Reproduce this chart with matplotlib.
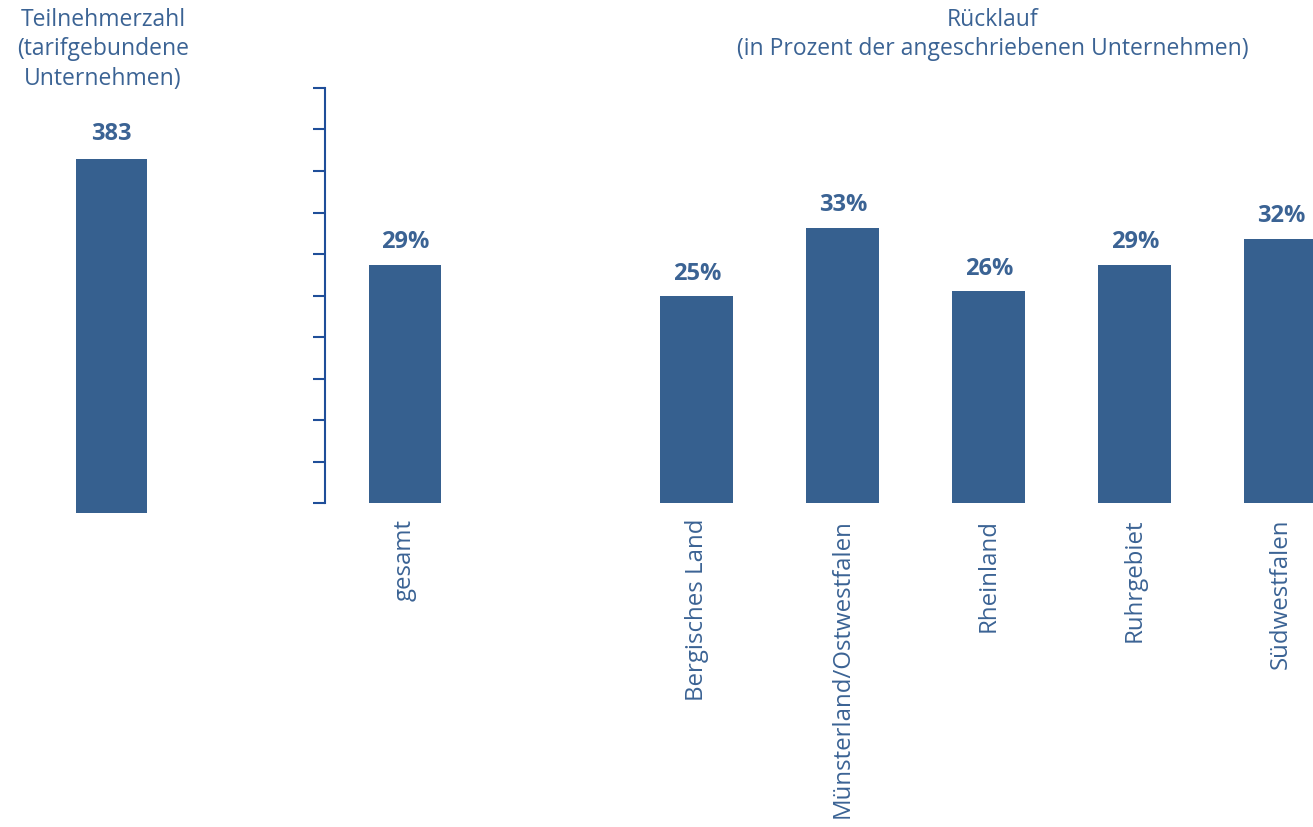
import matplotlib.pyplot as plt
import matplotlib.patheffects as pe

# data
teilnehmer = 383
regionen = ['gesamt', '', 'Bergisches Land', 'Münsterland/Ostwestfalen',
            'Rheinland', 'Ruhrgebiet', 'Südwestfalen']
ruecklauf = [28.7, None, 24.9, 33.1, 25.5, 28.7, 31.8]
labels = ['29%', '', '25%', '33%', '26%', '29%', '32%']

BAR = '#36608f'
TXT = '#3b6394'
AX = '#1f4e99'
W, H = 1313, 827

plt.rcParams['font.family'] = ['Open Sans', 'DejaVu Sans']
fig = plt.figure(figsize=(W / 100, H / 100), dpi=100)

shadow = [pe.SimplePatchShadow(offset=(0, -3), shadow_rgbFace='#8a8a8a', alpha=0.6), pe.Normal()]

# left panel: Teilnehmerzahl
axl = fig.add_axes([0, (H - 513) / H, 223 / W, 425 / H])
axl.bar([0], [teilnehmer], width=0.32, color=BAR, path_effects=shadow)
axl.set_xlim(-0.5, 0.5)
axl.set_ylim(0, 460)
axl.axis('off')
axl.text(0, teilnehmer + 14, str(teilnehmer), ha='center', va='bottom',
         fontsize=17, fontweight='bold', color=TXT)
fig.text(103 / W, 1 - 8 / H, 'Teilnehmerzahl\n(tarifgebundene\nUnternehmen)',
         ha='center', va='top', fontsize=16.5, color=TXT, linespacing=1.3)

# right panel: Rücklauf
ax = fig.add_axes([325 / W, (H - 503) / H, (W - 325) / W, 415 / H])
xs = [i for i, v in enumerate(ruecklauf) if v is not None]
vals = [v for v in ruecklauf if v is not None]
ax.bar(xs, vals, width=0.5, color=BAR, path_effects=shadow)
for x, v, l in zip(range(len(ruecklauf)), ruecklauf, labels):
    if v is None:
        continue
    ax.text(x, v + 1.3, l, ha='center', va='bottom', fontsize=17,
            fontweight='bold', color=TXT)
    ax.text(x, -1.9, regionen[x], ha='center', va='top', rotation=90,
            fontsize=17.3, color=TXT)
ax.set_xlim(-0.548, 6.22)
ax.set_ylim(0, 50)
ax.set_yticks(range(0, 51, 5))
ax.set_yticklabels([])
ax.set_xticks([])
for s in ['top', 'right', 'bottom']:
    ax.spines[s].set_visible(False)
ax.spines['left'].set_color(AX)
ax.spines['left'].set_linewidth(1.5)
ax.tick_params(axis='y', direction='out', length=9, width=1.5, color=AX)
ax.patch.set_alpha(0)
fig.text(993 / W, 1 - 8 / H, 'Rücklauf\n(in Prozent der angeschriebenen Unternehmen)',
         ha='center', va='top', fontsize=16.5, color=TXT, linespacing=1.3)

fig.savefig('out.png', dpi=100)
